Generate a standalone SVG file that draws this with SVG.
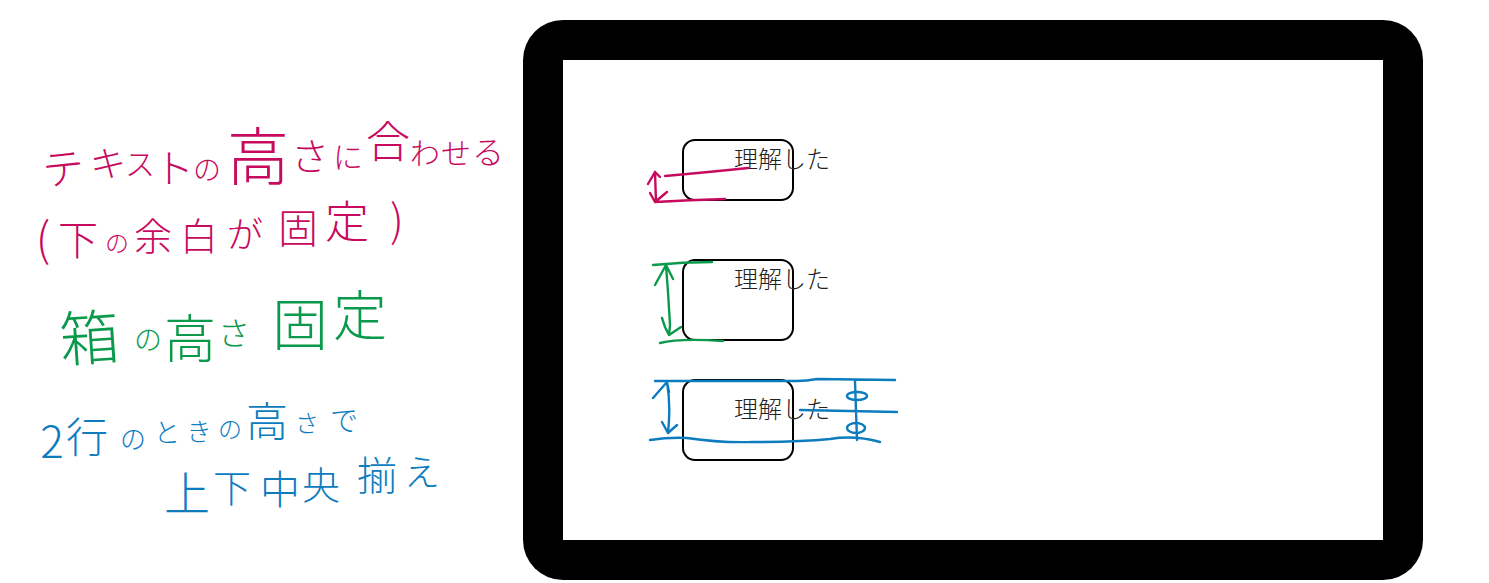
<svg xmlns="http://www.w3.org/2000/svg" width="1489" height="583" viewBox="0 0 1489 583">
<style>
.ink{font-family:"Noto Sans CJK JP","Noto Sans",sans-serif;font-weight:300;text-anchor:middle}
.pink{fill:#c80a5e}.green{fill:#0b9a4b}.blue{fill:#0d7cbf}
.label{font-family:"Noto Sans CJK JP","Noto Sans",sans-serif;font-weight:300;font-size:24px;fill:#222}
.box{fill:#fff;stroke:#000;stroke-width:2}
.s{fill:none;stroke-width:2.4;stroke-linecap:round;stroke-linejoin:round}
.sp{stroke:#c80a5e}.sg{stroke:#0b9a4b}.sb{stroke:#0d7cbf}
</style>
<rect width="1489" height="583" fill="#fff"/>
<g id="device"><rect x="523" y="20" width="900" height="560" rx="40" fill="#000"/><rect x="563" y="60" width="820" height="480" fill="#fff"/></g>
<g id="node-1"><rect class="box" x="683" y="140" width="110" height="60" rx="12"/><text class="label" x="734" y="168">理解した</text></g>
<g id="node-2"><rect class="box" x="683" y="260" width="110" height="80" rx="12"/><text class="label" x="734" y="288">理解した</text></g>
<g id="node-3"><rect class="box" x="683" y="380" width="110" height="80" rx="12"/><text class="label" x="734" y="418">理解した</text></g>
<g id="connectors">
<path class="s sp" d="M665 176Q710 172 748 168M655 202Q690 200 725 199M655 172L656 202M655 172L648 184M655 172L660 177M650 193L655 202L667 192"/>
<path class="s sg" d="M653 265Q683 262 712 262M660 343Q680 338 723 341M666 265L668 292L670 325L669 335M655 285L666 265L673 279M662 318L665 327L669 335L681 327"/>
<path class="s sb" d="M655 381L797 381Q807 381 817 379L895 380M800 410L897 412M650 440Q670 437 687 438Q720 443 753 442Q800 442 830 439Q855 435 880 442M667 382Q671 405 668 433M653 398L667 382L669 392M662 422L668 433L677 425M855 381L857 440"/>
<ellipse class="s sb" cx="857" cy="396" rx="10" ry="4"/><ellipse class="s sb" cx="856" cy="428" rx="9" ry="5"/>
</g>
<g id="note-pink">
<text class="ink pink"><tspan x="65" y="186" font-size="42" rotate="-6">テ</tspan><tspan x="109" y="178" font-size="36" rotate="-4">キ</tspan><tspan x="140" y="175" font-size="30">ス</tspan><tspan x="174" y="183" font-size="40">ト</tspan><tspan x="207" y="180" font-size="28">の</tspan><tspan x="258" y="180" font-size="62">高</tspan><tspan x="310" y="170" font-size="38">さ</tspan><tspan x="348" y="168" font-size="30">に</tspan><tspan x="388" y="158" font-size="44">合</tspan><tspan x="425" y="164" font-size="30">わ</tspan><tspan x="456" y="164" font-size="30">せ</tspan><tspan x="488" y="164" font-size="32">る</tspan></text>
<text class="ink pink"><tspan x="43" y="256" font-size="46">(</tspan><tspan x="78" y="255" font-size="40">下</tspan><tspan x="117" y="252" font-size="24">の</tspan><tspan x="153" y="250" font-size="38">余</tspan><tspan x="199" y="250" font-size="38">白</tspan><tspan x="245" y="248" font-size="36">が</tspan><tspan x="298" y="243" font-size="40">固</tspan><tspan x="347" y="238" font-size="44">定</tspan><tspan x="397" y="237" font-size="44">)</tspan></text>
</g>
<g id="note-green">
<text class="ink green"><tspan x="91" y="362" font-size="60" rotate="-4">箱</tspan><tspan x="148" y="350" font-size="28">の</tspan><tspan x="190" y="358" font-size="52">高</tspan><tspan x="234" y="345" font-size="32">さ</tspan><tspan x="300" y="345" font-size="56">固</tspan><tspan x="360" y="336" font-size="54">定</tspan></text>
</g>
<g id="note-blue">
<text class="ink blue"><tspan x="52" y="458" font-size="44">2</tspan><tspan x="87" y="453" font-size="42">行</tspan><tspan x="133" y="449" font-size="26">の</tspan><tspan x="167" y="442" font-size="26">と</tspan><tspan x="199" y="441" font-size="25">き</tspan><tspan x="230" y="438" font-size="24">の</tspan><tspan x="267" y="437" font-size="42">高</tspan><tspan x="307" y="432" font-size="24">さ</tspan><tspan x="344" y="431" font-size="28">で</tspan></text>
<text class="ink blue"><tspan x="187" y="510" font-size="46">上</tspan><tspan x="232" y="502" font-size="38">下</tspan><tspan x="280" y="504" font-size="40">中</tspan><tspan x="321" y="499" font-size="38">央</tspan><tspan x="377" y="490" font-size="40">揃</tspan><tspan x="422" y="486" font-size="36">え</tspan></text>
</g>
</svg>
